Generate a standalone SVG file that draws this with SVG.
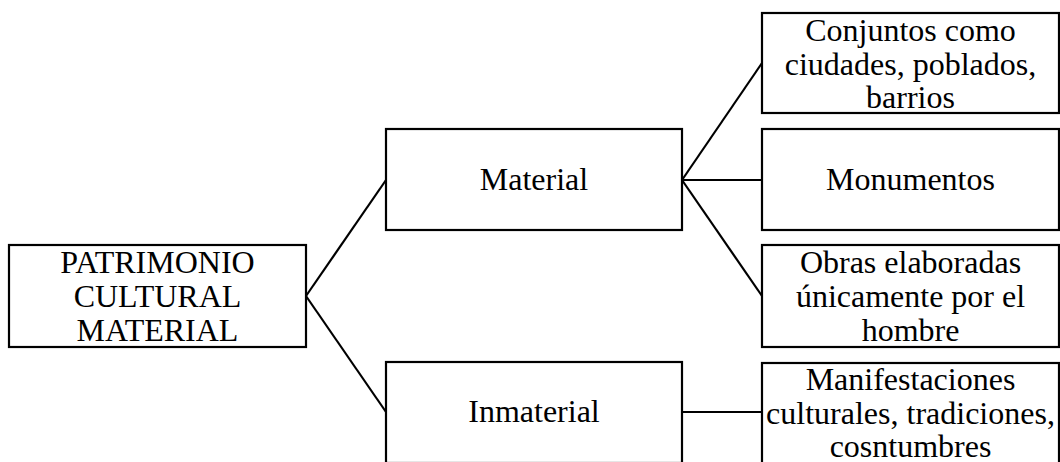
<svg xmlns="http://www.w3.org/2000/svg" width="1060" height="462" viewBox="0 0 1060 462">
<style>
rect{fill:#fff;stroke:#000;stroke-width:2.2}
text{font-family:"Liberation Serif","Times New Roman",serif;font-size:32px;fill:#000;text-anchor:middle}
.c line{stroke:#000;stroke-width:2.2}
</style>
<rect x="0" y="0" width="1060" height="462" style="stroke:none"/>
<g class="c" id="connectors">
<line x1="306" y1="296" x2="386" y2="180"/>
<line x1="306" y1="296" x2="386" y2="412"/>
<line x1="682" y1="180" x2="762" y2="63"/>
<line x1="682" y1="180" x2="762" y2="180"/>
<line x1="682" y1="180" x2="762" y2="296"/>
<line x1="682" y1="412" x2="762" y2="412"/>
</g>
<g id="root">
<rect x="9" y="245" width="297" height="102"/>
<text x="157.5" y="273">PATRIMONIO</text>
<text x="157.5" y="307">CULTURAL</text>
<text x="157.5" y="341">MATERIAL</text>
</g>
<g id="material">
<rect x="386" y="129" width="296" height="101"/>
<text x="534" y="190">Material</text>
</g>
<g id="inmaterial">
<rect x="386" y="362" width="296" height="101"/>
<text x="534" y="422">Inmaterial</text>
</g>
<g id="conjuntos">
<rect x="762" y="13" width="297" height="100"/>
<text x="910.5" y="41">Conjuntos como</text>
<text x="910.5" y="75">ciudades, poblados,</text>
<text x="910.5" y="108">barrios</text>
</g>
<g id="monumentos">
<rect x="762" y="129" width="297" height="101"/>
<text x="910.5" y="190">Monumentos</text>
</g>
<g id="obras">
<rect x="762" y="245" width="297" height="102"/>
<text x="910.5" y="273">Obras elaboradas</text>
<text x="910.5" y="307">únicamente por el</text>
<text x="910.5" y="341">hombre</text>
</g>
<g id="manifestaciones">
<rect x="762" y="363" width="297" height="101"/>
<text x="910.5" y="390">Manifestaciones</text>
<text x="910.5" y="424">culturales, tradiciones,</text>
<text x="910.5" y="457">cosntumbres</text>
</g>
</svg>
